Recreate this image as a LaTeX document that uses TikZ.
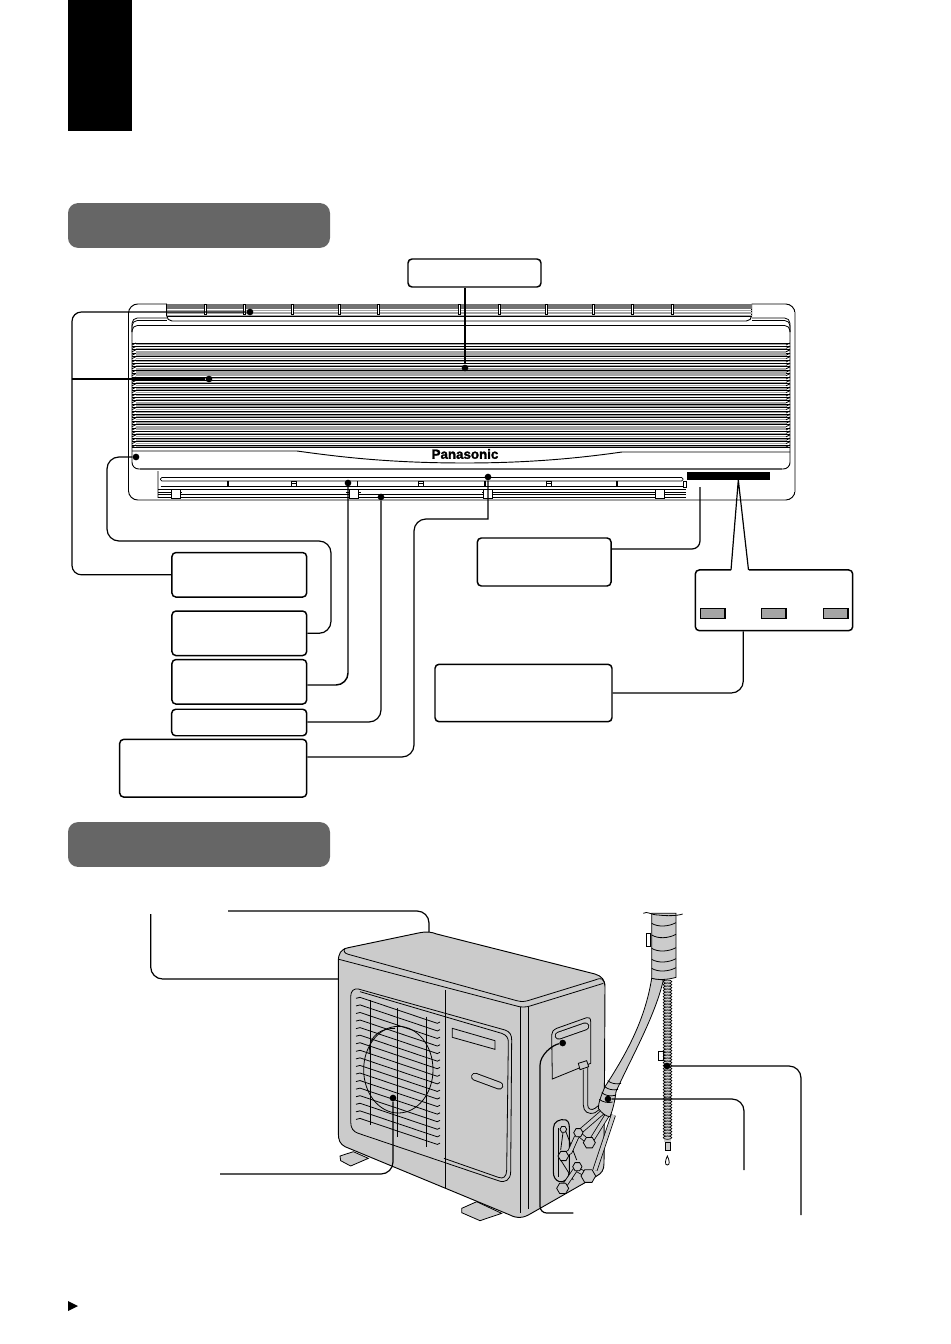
\documentclass[tikz,border=0pt]{standalone}
\usepackage{fontspec}
\setmainfont{Liberation Sans}
\usetikzlibrary{shapes.geometric}
\definecolor{pillgray}{HTML}{666666}
\definecolor{bodygray}{HTML}{CBCBCB}
\definecolor{finegray}{HTML}{A4A4A4}

\begin{document}
\begin{tikzpicture}[x=0.75pt,y=-0.75pt,
  lbl/.style 2 args={draw,rounded corners=3pt,line width=1.1pt,inner sep=0pt,fill=white,minimum width=#1*0.75pt,minimum height=#2*0.75pt},
  pill/.style={fill=pillgray,rounded corners=7.5pt,inner sep=0pt,minimum width=196.5pt,minimum height=33.6pt},
  pin/.style={circle,fill=black,inner sep=0pt,minimum size=5pt},
  wire/.style={line width=0.9pt,rounded corners=9pt},
  lamp/.style={draw,fill=finegray,line width=1.3pt,inner sep=0pt,minimum width=18.5pt,minimum height=7.5pt},
  nut/.style={regular polygon,regular polygon sides=6,draw,fill=bodygray,line width=0.6pt,inner sep=0pt,minimum size=#1},
  tube/.style={double=bodygray,double distance=2.6pt,line width=0.6pt},
  slotline/.style={double=bodygray,double distance=4.5pt,line width=0.7pt,line cap=round},
  thin/.style={line width=0.6pt}]
\useasboundingbox (0,0) rectangle (950,1344);

% title block and headers
\node[fill=black,inner sep=0pt,minimum width=48pt,minimum height=98.5pt] (titleblock) at (100,65.5) {};
\node[pill] (headindoor) at (199,225.5) {};
\node[pill] (headoutdoor) at (199,844.5) {};
\fill (68,1301) -- (78,1306) -- (68,1311) -- cycle;

% indoor unit
\draw[line width=0.7pt,rounded corners=7pt] (128.5,304) rectangle (795,500);
\draw[finegray,line width=1pt] (795,312) -- (795,492);
\fill[white] (166.7,300) rectangle (751.7,304.5);
\draw[line width=0.6pt,rounded corners=4pt] (132,340) -- (132,325.5) -- (790,325.5) -- (790,340);
\draw[line width=0.6pt,rounded corners=4pt] (132,332) -- (132,318) -- (170,318);
\draw[line width=0.6pt,rounded corners=4pt] (132,332) -- (132,320.5) -- (170,320.5);
\draw[line width=0.6pt,rounded corners=4pt] (748,318) -- (790,318) -- (790,332);
\draw[line width=0.6pt,rounded corners=4pt] (748,320.5) -- (790,320.5) -- (790,332);

% top grille
\fill[white] (166.7,304) rectangle (751.7,321);
\draw[line width=0.7pt,rounded corners=4pt] (166.7,304) -- (166.7,321) -- (751.7,321) -- (751.7,304);
\fill[finegray!70!black] (166.7,304.5) rectangle (751.7,309);
\foreach \y in {310.5,313,315.5}
  \draw[finegray,line width=0.8pt] (166.7,\y) -- (751.7,\y);
\draw[thin] (166.7,316.8) -- (751.7,316.8);
\foreach \x in {205,244,292,339,378,459,499,546,593,632,672}
  \draw[thin,fill=white] (\x-1,304) rectangle (\x+1,314.5);

% front louvers
\foreach \i in {0,...,30}{
  \pgfmathsetmacro{\yy}{343+3.4*\i}
  \draw[line width=0.55pt] (132,\yy) -- (790,\yy);
  \draw[finegray,line width=0.9pt] (136,\yy+1.7) -- (786,\yy+1.7);
  \draw[thin] (132,\yy+2) -- (136,\yy);
  \draw[thin] (786,\yy+2) -- (790,\yy);
}
\foreach \y in {353,369,374,403,416,428}
  \draw[finegray,line width=2pt] (136,\y) -- (786,\y);
\draw[line width=0.8pt] (132,447.5) -- (790,447.5);
\fill[white] (133,448.2) rectangle (789,450.5);

% logo swoosh and lower edge of the panel
\draw[line width=0.7pt] (132,451) -- (297,451) .. controls (340,457) and (390,463) .. (465,463) .. controls (530,463) and (580,458) .. (622,452) -- (790,452);
\draw[line width=0.7pt,rounded corners=5pt] (132,340) -- (132,469) -- (790,469) -- (790,340);
\draw[finegray!60!black,line width=0.9pt] (140,469) -- (782,469);
\node[font=\bfseries\addfontfeature{FakeBold=1.6},inner sep=0pt] (logo) at (465,454) {Panasonic};

% air outlet
\fill[white] (158,470.5) rectangle (686,499.4);
\draw[finegray,line width=0.8pt] (158,471) -- (158,498);
\draw[thin,fill=white,rounded corners=1pt] (160.5,477.5) rectangle (683,481);
\draw[line width=1pt] (160.5,486.5) -- (683,486.5);
\draw[thin] (683,481) rectangle (686,487);
\foreach \y in {489.3,492.3,494.8,497.8}
  \draw[thin] (158,\y) -- (686,\y);
\fill[white] (182,490) rectangle (346,494);
\fill[white] (361,490) rectangle (482,494);
\draw[line width=1pt] (228,481) -- (228,486);
\draw[line width=1pt] (617,481) -- (617,486);
\draw[line width=1pt] (485,481) -- (485,486);
\draw[thin] (357,481) -- (357,486);
\foreach \x in {294,421,549}
  \draw[thin,fill=white] (\x-2.5,481) rectangle (\x+2.5,486.5) (\x-2.5,483.5) -- (\x+2.5,483.5);
\foreach \x in {176,354,488,660}
  \draw[thin,fill=white] (\x-4.5,489) rectangle (\x+4.5,498);
\node[fill=black,inner sep=0pt,minimum width=62.3pt,minimum height=6.3pt] (dispbar) at (728.3,476) {};

% label boxes, indoor unit
\node[lbl={133}{28}] (boxtop) at (474.5,273) {};
\node[lbl={134.7}{44.5}] (boxa) at (239.3,574.8) {};
\node[lbl={134.7}{44.5}] (boxb) at (239.3,633.3) {};
\node[lbl={134.7}{44.5}] (boxc) at (239.3,681.8) {};
\node[lbl={135}{26.5}] (boxd) at (239.2,722.5) {};
\node[lbl={187}{57.7}] (boxe) at (213.2,768.2) {};
\node[lbl={133.7}{48}] (boxf) at (544.2,562) {};
\node[lbl={157.4}{60.7}] (boxg) at (774,600.3) {};
\node[lbl={177}{57.4}] (boxh) at (523.5,693) {};
\node[lamp] (lampa) at (712.9,613.6) {};
\node[lamp] (lampb) at (773.7,613.6) {};
\node[lamp] (lampc) at (835.8,613.6) {};

% pins
\node[pin] (pflap) at (250,312) {};
\node[pin] (pgrille) at (209,379) {};
\node[pin] (pinlet) at (465,368) {};
\node[pin] (pcase) at (136,457) {};
\node[pin] (pvane) at (348,483) {};
\node[pin] (plouver) at (381,497) {};
\node[pin] (pswitch) at (488,477) {};
\coordinate (frecv) at (700,487);
\coordinate (wtip) at (738.3,480);
\coordinate (wleft) at (731,570);
\coordinate (wright) at (748.5,570);

\draw[wire,rounded corners=7pt] (pflap) -| (72,500) |- (boxa.west);
\draw[wire] (pgrille) -- (72,379);
\draw[wire] (pinlet) -- (pinlet |- boxtop.south);
\draw[wire] (pcase) -| (107,541) -- (331,541) |- (boxb.east);
\draw[wire,line width=1.1pt] (pvane) |- (boxc.east |- 0,685);
\draw[wire] (plouver) |- (boxd.east |- 0,722);
\draw[wire] (pswitch) [sharp corners] -- (488,519) [rounded corners=9pt] -| (414,600) |- (boxe.east |- 0,757);
\draw[wire,rounded corners=6pt] (frecv) |- (boxf.east |- 0,549);
\draw[white,line width=2pt] (wleft) -- (wright);
\draw[line width=0.9pt] (wleft) -- (wtip) -- (wright);
\draw[wire] (boxg.south -| 743.3,0) |- (boxh.east);

% outdoor unit, traced in 3x pixels of its own frame
\begin{scope}[shift={(320,920)},x=0.25pt,y=-0.25pt]
\draw[thin,fill=bodygray] (60,708) -- (100,695) -- (145,715) -- (92,738) -- (62,722) -- cycle;
\draw[thin,fill=bodygray] (425,865) -- (470,845) -- (545,880) -- (480,902) -- (425,878) -- cycle;
\draw[line width=0.7pt,fill=bodygray] (55,125) .. controls (55,100) and (62,88) .. (85,83) -- (300,38)
  .. controls (320,34) and (335,36) .. (350,42) -- (825,162) .. controls (845,168) and (855,180) .. (855,200)
  -- (852,730) .. controls (852,750) and (845,760) .. (830,768) -- (625,885) .. controls (605,895) and (590,895) .. (570,885)
  -- (75,680) .. controls (60,672) and (55,660) .. (55,640) -- cycle;
\draw[thin] (75,85) .. controls (70,92) and (72,100) .. (85,103) -- (590,242) .. controls (605,246) and (615,245) .. (630,240) -- (825,180) .. controls (845,172) and (850,175) .. (855,195);
\draw[thin] (57,118) -- (590,258) .. controls (600,262) and (620,262) .. (630,258) -- (850,190);
\draw[thin] (600,262) -- (600,878);
\draw[thin] (625,260) -- (625,868);
\draw[thin] (375,210) -- (375,805);

% grille frame
\draw[thin] (115,207) -- (555,330) .. controls (570,335) and (575,345) .. (575,360) -- (572,755) .. controls (572,780) and (555,790) .. (535,782) -- (115,640) .. controls (100,635) and (92,625) .. (92,605) -- (92,230) .. controls (92,212) and (102,205) .. (115,207) -- cycle;
\draw[thin] (120,215) -- (545,340) .. controls (560,345) and (565,355) .. (565,365) -- (560,750) .. controls (560,770) and (550,778) .. (535,772) -- (372,715);

% fins
\foreach \i in {0,...,16}{
  \pgfmathsetmacro{\yy}{232+22.7*\i}
  \draw[thin] (108,\yy+3) -- (120,\yy) -- (352,\yy+78) -- (360,\yy+74);
}
\draw[thin] (150,240) -- (150,615);
\draw[thin] (233,265) -- (233,650);
\draw[thin] (318,290) -- (318,680);
\draw[thin] (235,449) ellipse (104 and 130);
\draw[thin] (148,400) .. controls (145,340) and (190,325) .. (225,325);

% vents on the front panel
\draw[thin] (397,325) -- (525,362) -- (525,388) -- (397,352) -- cycle;
\draw[slotline] (465,470) -- (538,497);

% side plate
\draw[thin] (695,345) .. controls (695,335) and (700,330) .. (710,325) -- (800,293) .. controls (808,290) and (812,295) .. (812,305) -- (812,430) -- (697,477) -- cycle;
\draw[slotline] (716,347) -- (796,319);
\draw[thin,fill=bodygray] (775,430) -- (800,422) -- (806,440) -- (780,449) -- cycle;
\draw[thin] (790,449) -- (790,555) .. controls (790,575) and (805,585) .. (825,578) -- (850,560);
\draw[thin] (803,442) -- (803,555) .. controls (803,568) and (815,572) .. (825,565) -- (850,545);

% valve recess
\draw[line width=0.8pt] (700,625) .. controls (700,605) and (720,595) .. (738,600) .. controls (748,605) and (748,615) .. (748,630) -- (748,755) .. controls (748,775) and (730,790) .. (718,785) .. controls (705,780) and (700,770) .. (700,755) -- cycle;
\draw[thin] (716,625) -- (716,770);
\draw[tube] (780,635) -- (855,570);
\draw[tube] (815,660) -- (868,575);
\draw[tube] (825,750) -- (880,585);
\draw[thin] (730,630) -- (722,690) (735,628) -- (770,720);
\draw[tube] (772,638) -- (808,668);
\draw[tube] (770,650) -- (750,695) -- (730,708);
\draw[thin] (722,720) -- (760,780);
\draw[tube] (765,745) -- (805,767);
\draw[tube] (772,740) -- (728,805);
\node[nut=5pt] (nuta) at (730,628) {};
\node[nut=7pt] (nutb) at (775,638) {};
\node[nut=9pt] (nutc) at (808,668) {};
\node[nut=8pt] (nutd) at (730,708) {};
\node[nut=7pt] (nute) at (772,740) {};
\node[nut=11pt] (nutf) at (805,768) {};
\node[nut=9pt] (nutg) at (728,805) {};
\end{scope}

% piping and drain hose
\begin{scope}[shift={(530,900)},x=0.25pt,y=-0.25pt]
\draw[thin,fill=white] (385,455) rectangle (400,482);
\fill[bodygray] (401,240) rectangle (424,725);
\foreach \y in {245,254,...,720}
  \draw[line width=0.5pt,fill=bodygray] (412.5,\y) ellipse (13 and 5);
\draw[thin,fill=bodygray] (405,728) rectangle (420,752);
\draw[thin,fill=white] (412,768) .. controls (405,782) and (404,795) .. (412,795) .. controls (420,795) and (419,782) .. (412,768) -- cycle;
\draw[thin,fill=bodygray] (365,235) .. controls (345,360) and (290,460) .. (225,560) .. controls (212,590) and (205,610) .. (205,625) .. controls (215,640) and (230,650) .. (240,650) .. controls (250,625) and (255,600) .. (258,575) .. controls (300,480) and (375,350) .. (400,240) -- cycle;
\foreach \x/\y in {233/542,224/560,215/578,208/598}
  \draw[thin] (\x,\y) .. controls (\x+10,\y+8) and (\x+25,\y+12) .. (\x+40,\y+8);
\draw[thin,fill=bodygray] (365,40) -- (365,235) .. controls (385,240) and (410,240) .. (438,232) -- (438,40) -- cycle;
\draw[thin,fill=white] (350,100) rectangle (362,140);
\foreach \y in {70,105,145,178,205}
  \draw[thin] (365,\y) .. controls (385,\y+12) and (415,\y+10) .. (438,\y-2);
\draw[thin] (362,98) -- (362,140);
\draw[thin] (340,40) .. controls (352,32) and (362,45) .. (385,45) .. controls (410,48) and (440,48) .. (458,42);
\end{scope}

% outdoor connectors
\node[pin] (pfan) at (393,1098) {};
\node[pin] (pplate) at (562.7,1043) {};
\node[pin] (ppipe) at (608,1099) {};
\node[pin] (pdrain) at (667,1066) {};
\coordinate (ftopa) at (228,911);
\coordinate (ftopb) at (429,932);
\coordinate (fsidea) at (150.7,914);
\coordinate (fsideb) at (338,979);
\coordinate (ffan) at (220,1174);
\coordinate (fplate) at (573.3,1213);
\coordinate (fpipe) at (744,1170);
\coordinate (fdrain) at (801,1215);
\draw[wire] (ftopa) -| (ftopb);
\draw[wire] (fsidea) |- (fsideb);
\draw[wire] (pfan) |- (ffan);
\draw[wire,rounded corners=5pt] (pplate) .. controls (552,1045) and (540,1055) .. (540,1072) -- (540,1213) -- (fplate);
\draw[wire] (ppipe) -| (fpipe);
\draw[wire] (pdrain) -| (fdrain);
\end{tikzpicture}
\end{document}
